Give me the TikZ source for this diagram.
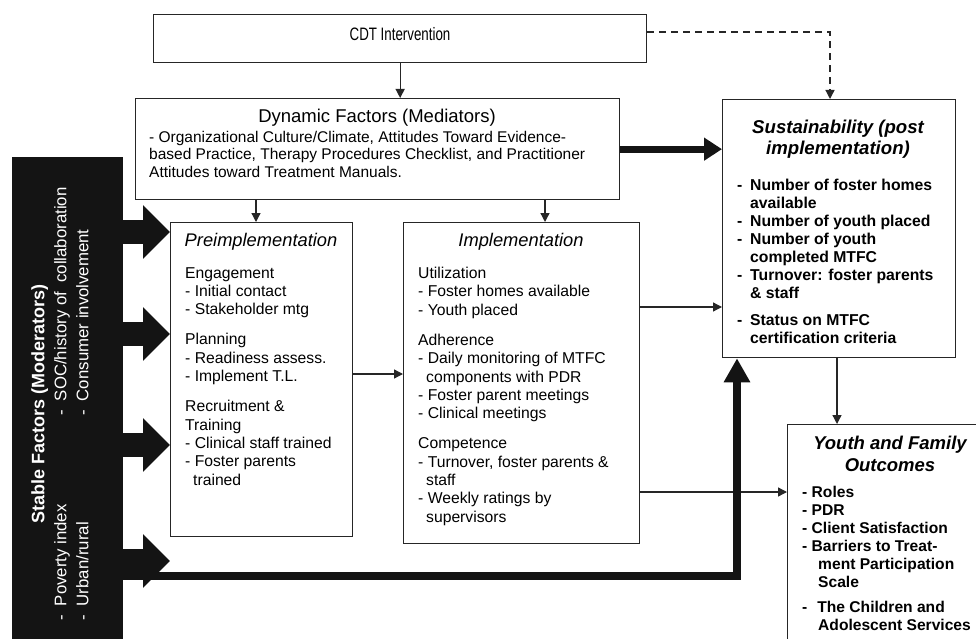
\documentclass[tikz,border=0pt]{standalone}
\usepackage{fontspec}
\setmainfont{Liberation Sans}
\newfontfamily\narrowsf{Liberation Sans}[FakeStretch=0.74]
\usetikzlibrary{arrows.meta}
\newcommand\fs[2]{\fontsize{#1}{#2}\selectfont}
\newcommand\dsh{\makebox[13pt][l]{-}}
\newcommand\ind[1]{\hspace*{#1pt}}

\begin{document}
\begin{tikzpicture}[x=1pt,y=-1pt,
  box/.style={draw=black!85,line width=1.3pt,fill=white,inner sep=0pt,anchor=north west},
  txt/.style={inner sep=0pt,align=left,anchor=north west},
  head/.style={inner sep=0pt,align=center,anchor=north},
  arr/.style={draw=black!85,line width=1.3pt,-{Triangle[length=9pt,width=9pt]}},
  fatarr/.style={draw=black!92,line width=8pt,line join=miter,-{Triangle[length=24pt,width=25pt]}},
  stable/.style={draw=black!92,line width=24pt,-{Triangle[length=27pt,width=52pt]}}]
\useasboundingbox (0,0) rectangle (976,639);
% stable factors bar
\node[fill=black!92,minimum width=111pt,minimum height=500pt,anchor=north west,inner sep=0pt] (bar) at (12,157) {};
\node[rotate=90,text=white,inner sep=0pt,font=\fs{16.8}{22}] (stab) at (62,404) {\begin{tabular}{@{}p{205pt}@{}l@{}}\multicolumn{2}{c}{\fs{18}{22}\bfseries Stable Factors (Moderators)}\\-\hspace{9pt}Poverty index&-\hspace{9pt}SOC/history of\ \ collaboration\\-\hspace{9pt}Urban/rural&-\hspace{9pt}Consumer involvement\end{tabular}};
% boxes
\node[box,minimum width=493pt,minimum height=48pt] (cdt) at (153,14) {};
\node[box,minimum width=484pt,minimum height=101pt] (dyn) at (135,98) {};
\node[box,minimum width=182pt,minimum height=314pt] (pre) at (170,222) {};
\node[box,minimum width=236pt,minimum height=321pt] (imp) at (403,222) {};
\node[box,minimum width=233pt,minimum height=258pt] (sus) at (722,99) {};
\node[box,minimum width=210pt,minimum height=240pt] (you) at (787,424) {};
% texts
\node[font=\narrowsf\fs{18}{20}] (cdtt) at (400,34) {CDT Intervention};
\node[font=\fs{18.5}{21}] (dynh) at (377,118) {Dynamic Factors (Mediators)};
\node[txt,font=\fs{15.5}{17.5}] (dynb) at (149,131) {- Organizational Culture/Climate, Attitudes Toward Evidence-\\based Practice, Therapy Procedures Checklist, and Practitioner\\Attitudes toward Treatment Manuals.};
\node[font=\fs{18.3}{21}\itshape] (preh) at (261,242) {Preimplementation};
\node[txt,font=\fs{15.7}{18.3}] (preb) at (185,267) {Engagement\\- Initial contact\\- Stakeholder mtg\\[12pt]Planning\\- Readiness assess.\\- Implement T.L.\\[12pt]Recruitment \&\\Training\\- Clinical staff trained\\- Foster parents\\\ind{8}trained};
\node[font=\fs{18.3}{21}\itshape] (imph) at (521,242) {Implementation};
\node[txt,font=\fs{15.7}{18.3}] (impb) at (418,267) {Utilization\\- Foster homes available\\- Youth placed\\[12pt]Adherence\\- Daily monitoring of MTFC\\\ind{8}components with PDR\\- Foster parent meetings\\- Clinical meetings\\[12pt]Competence\\- Turnover, foster parents \&\\\ind{8}staff\\- Weekly ratings by\\\ind{8}supervisors};
\node[head,font=\fs{18.6}{21}\bfseries\itshape] (sush) at (838,120) {Sustainability (post\\implementation)};
\node[txt,font=\fs{15.75}{18}\bfseries] (susb) at (737,179) {\dsh Number of foster homes\\\ind{13}available\\\dsh Number of youth placed\\\dsh Number of youth\\\ind{13}completed MTFC\\\dsh Turnover: foster parents\\\ind{13}\& staff\\[9pt]\dsh Status on MTFC\\\ind{13}certification criteria};
\node[head,font=\fs{18.5}{22}\bfseries\itshape] (youh) at (890,436) {Youth and Family\\Outcomes};
\node[txt,font=\fs{15.6}{18}\bfseries] (youb) at (802,486) {- Roles\\- PDR\\- Client Satisfaction\\- Barriers to Treat-\\\ind{16}ment Participation\\\ind{16}Scale\\[7pt]-\hspace{10pt}The Children and\\\ind{16}Adolescent Services};
% connectors
\draw[arr] (cdt.south) -- (cdt.south |- dyn.north);
\draw[arr,dash pattern=on 7pt off 5pt] (cdt.east |- 0,32) -| (sus.north -| 830,0);
\draw[arr] (dyn.south -| 256,0) -- (pre.north -| 256,0);
\draw[arr] (dyn.south -| 545,0) -- (imp.north -| 545,0);
\draw[arr] (pre.east |- 0,374) -- (imp.west |- 0,374);
\draw[arr] (imp.east |- 0,307) -- (sus.west |- 0,307);
\draw[arr] (imp.east |- 0,492) -- (you.west |- 0,492);
\draw[arr] (sus.south -| 837,0) -- (you.north -| 837,0);
\draw[fatarr,line width=7pt,-{Triangle[length=18pt,width=22pt]}] (dyn.east) -- (sus.west |- dyn.east);
\foreach \y in {232,334,445,561}{\draw[stable] (bar.east |- 0,\y) -- (pre.west |- 0,\y);}
\draw[fatarr] (bar.east |- 0,576) -| (sus.south -| 737,0);
\end{tikzpicture}
\end{document}
